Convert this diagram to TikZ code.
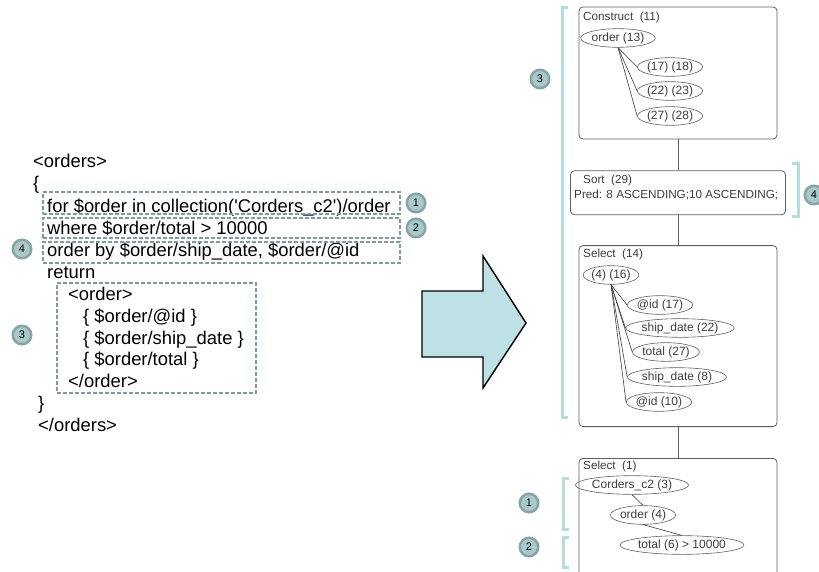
\documentclass[tikz,border=0pt]{standalone}
\usepackage{fontspec}
\setmainfont{Liberation Sans}
\usepackage{xcolor}
\usepackage{tikz}
\usetikzlibrary{positioning,shapes.geometric}
\definecolor{BadgeFill}{HTML}{A9C9CB}
\definecolor{BadgeRing}{HTML}{87A5A7}
\definecolor{BracketBlue}{HTML}{B4DDE1}
\definecolor{DashTeal}{HTML}{7C9B9D}
\definecolor{ArrowFill}{HTML}{BDE1E5}
\definecolor{BoxLine}{HTML}{5E5E5E}
\definecolor{OpText}{HTML}{3C3C3C}

\begin{document}
\begin{tikzpicture}[
  x=1pt, y=-1pt,
  code/.style={anchor=base west, inner sep=0pt, font=\fontsize{18.4}{22}\selectfont},
  qbox/.style={draw=DashTeal, dash pattern=on 4pt off 2pt, line width=1.1pt, minimum width=357pt},
  badge/.style={circle, fill=BadgeFill, draw=BadgeRing, line width=2.5pt, minimum size=18.5pt, inner sep=0pt, font=\fontsize{11}{12}\selectfont},
  opbox/.style={draw=BoxLine, rounded corners=4pt, line width=0.8pt, minimum width=198pt},
  optext/.style={anchor=base west, inner sep=0pt, text=OpText, font=\fontsize{11.7}{14}\selectfont},
  oval/.style={ellipse, draw=BoxLine, line width=0.6pt, inner xsep=0pt, inner ysep=1pt, text=OpText, font=\fontsize{12}{14}\selectfont},
  link/.style={draw=BoxLine, line width=0.9pt},
  edge/.style={draw=OpText, line width=0.6pt},
  bracket/.style={draw=BracketBlue, line width=3pt}
]
\useasboundingbox (0,0) rectangle (819,572);

% query text
\node[code] (l1) at (33,168) {<orders>};
\node[code] (l2) at (33,190) {\{};
\node[code] (l3) at (47,212) {for \$order in collection(\textquotesingle Corders\_c2\textquotesingle)/order};
\node[code] (l4) at (47,234) {where \$order/total > 10000};
\node[code] (l5) at (47,256) {order by \$order/ship\_date, \$order/@id};
\node[code] (l6) at (47,278) {return};
\node[code] (l7) at (68,300) {<order>};
\node[code] (l8) at (83,322) {\{ \$order/@id \}};
\node[code] (l9) at (83,344) {\{ \$order/ship\_date \}};
\node[code] (l10) at (83,365) {\{ \$order/total \}};
\node[code] (l11) at (68,387) {</order>};
\node[code] (l12) at (38,409) {\}};
\node[code] (l13) at (38,431) {</orders>};

% dashed clauses
\node[qbox, minimum height=22pt] (qfor) at (221.5,203) {};
\node[qbox, minimum height=20pt] (qwhere) at (221.5,228) {};
\node[qbox, minimum height=21pt] (qorder) at (221.5,252.5) {};
\node[qbox, minimum width=199pt, minimum height=110pt] (qret) at (156.5,338) {};

\node[badge, right=5pt of qfor] (b1) {1};
\node[badge, right=5pt of qwhere] (b2) {2};
\node[badge] (b4) at (22,249) {4};
\node[badge] (b3) at (22,335) {3};

% big arrow
\draw[fill=ArrowFill, line width=1.4pt, line join=miter]
  (422,291) -- (483,291) -- (483,256) -- (526,323) -- (483,388) -- (483,357) -- (422,357) -- cycle;

% plan operators
\node[opbox, minimum height=132pt] (construct) at (678,73) {};
\node[opbox, minimum width=215pt, minimum height=44pt, below=31pt of construct] (sort) {};
\node[opbox, minimum height=181pt, below=30pt of sort] (sel14) {};
\node[opbox, minimum height=130pt, below=31pt of sel14] (sel1) {};

\draw[link] (construct) -- (sort);
\draw[link] (sort) -- (sel14);
\draw[link] (sel14) -- (sel1);

\node[optext] (constructlbl) at (583,21) {Construct~ (11)};
\node[oval] (o13) at (618,38) {order (13)};
\node[oval] (e1718) at (670,67) {(17) (18)};
\node[oval] (e2223) at (670,91) {(22) (23)};
\node[oval] (e2728) at (670,116) {(27) (28)};
\draw[edge] (o13.south) -- (e1718.west);
\draw[edge] (o13.south) -- (e2223.west);
\draw[edge] (o13.south) -- (e2728.west);

\node[optext] (sortlbl) at (583,184) {Sort~ (29)};
\node[optext] (predlbl) at (574,199) {Pred: 8 ASCENDING;10 ASCENDING;};

\node[optext] (sel14lbl) at (583,258) {Select~ (14)};
\node[oval] (o416) at (611,275) {(4) (16)};
\node[oval] (id17) at (660,305) {@id (17)};
\node[oval] (sd22) at (680,328) {ship\_date (22)};
\node[oval] (tot27) at (666,352) {total (27)};
\node[oval] (sd8) at (677,377) {ship\_date (8)};
\node[oval] (id10) at (659,402) {@id (10)};
\draw[edge] (o416.south) -- (id17.west);
\draw[edge] (o416.south) -- (sd22.west);
\draw[edge] (o416.south) -- (tot27.west);
\draw[edge] (o416.south) -- (sd8.west);
\draw[edge] (o416.south) -- (id10.west);

\node[optext] (sel1lbl) at (583,469) {Select~ (1)};
\node[oval] (c2) at (632,485) {Corders\_c2 (3)};
\node[oval] (ord4) at (643,515) {order (4)};
\node[oval] (tot6) at (682,545) {total (6) > 10000};
\draw[edge] (c2.south) -- (ord4.north);
\draw[edge] (ord4.south) -- (tot6.north);

% brackets
\draw[bracket] (568,8) -- (562,8) -- (562,417) -- (568,417);
\draw[bracket] (792,164) -- (798,164) -- (798,217) -- (792,217);
\draw[bracket] (569,478) -- (563,478) -- (563,529) -- (569,529);
\draw[bracket] (569,537) -- (563,537) -- (563,567) -- (569,567);

\node[badge] (r3) at (540,79) {3};
\node[badge] (r4) at (814,195) {4};
\node[badge] (r1) at (529,503) {1};
\node[badge] (r2) at (529,547) {2};
\end{tikzpicture}
\end{document}
